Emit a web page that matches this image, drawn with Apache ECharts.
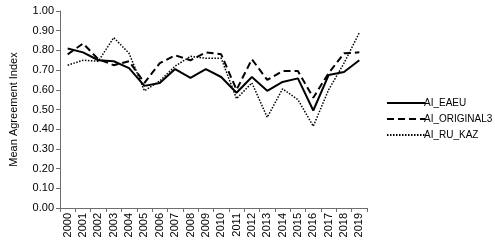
<!DOCTYPE html>
<html>
<head>
<meta charset="utf-8">
<script src="https://cdn.jsdelivr.net/npm/echarts@6/dist/echarts.min.js"></script>
<style>html,body{margin:0;padding:0;background:#fff}#c{width:495px;height:243px}</style>
</head>
<body>
<div id="c"></div>
<script>
var years = ['2000','2001','2002','2003','2004','2005','2006','2007','2008','2009','2010','2011','2012','2013','2014','2015','2016','2017','2018','2019'];
var aiEAEU = [0.81,0.79,0.75,0.745,0.71,0.62,0.635,0.705,0.66,0.705,0.665,0.585,0.665,0.595,0.64,0.658,0.495,0.675,0.69,0.75];
var aiOriginal3 = [0.78,0.835,0.755,0.725,0.745,0.635,0.735,0.775,0.75,0.79,0.78,0.60,0.755,0.65,0.695,0.695,0.56,0.685,0.785,0.79];
var aiRuKaz = [0.725,0.75,0.745,0.865,0.785,0.595,0.645,0.72,0.77,0.76,0.76,0.555,0.635,0.46,0.605,0.55,0.415,0.60,0.735,0.89];
var yTicks = ['0.00','0.10','0.20','0.30','0.40','0.50','0.60','0.70','0.80','0.90','1.00'];
var seriesNames = ['AI_EAEU','AI_ORIGINAL3','AI_RU_KAZ'];

var font = 'Liberation Sans';
var chart = echarts.init(document.getElementById('c'));
chart.setOption({
  animation: false,
  grid: {left: 54, top: 11, right: 128, bottom: 35},
  legend: {
    orient: 'vertical', left: 381, top: 93, itemGap: 6,
    itemWidth: 38, itemHeight: 10,
    itemStyle: {opacity: 0},
    textStyle: {fontFamily: font, fontSize: 10, color: '#000', padding: [0,0,0,-6]},
    data: seriesNames
  },
  xAxis: {
    type: 'category', data: years, boundaryGap: true,
    axisLine: {lineStyle: {color: '#6e6e6e', width: 1}},
    axisTick: {show: true, length: 4, lineStyle: {color: '#6e6e6e'}},
    axisLabel: {rotate: 90, fontFamily: font, fontSize: 11, color: '#000', margin: 5, interval: 0}
  },
  yAxis: {
    type: 'value', min: 0, max: 1, interval: 0.1,
    name: 'Mean Agreement Index', nameLocation: 'middle', nameGap: 41,
    nameTextStyle: {fontFamily: font, fontSize: 11, color: '#000'},
    axisLine: {show: true, lineStyle: {color: '#6e6e6e', width: 1}},
    axisTick: {show: true, length: 4, lineStyle: {color: '#6e6e6e'}},
    splitLine: {show: false},
    axisLabel: {fontFamily: font, fontSize: 11, color: '#000', margin: 6,
      formatter: function(v){ return yTicks[Math.round(v*10)]; }}
  },
  series: [
    {name: seriesNames[0], type: 'line', data: aiEAEU, symbol: 'none',
     lineStyle: {color: '#000', width: 2, type: 'solid'}, itemStyle: {color: '#000'}},
    {name: seriesNames[1], type: 'line', data: aiOriginal3, symbol: 'none',
     lineStyle: {color: '#000', width: 2, type: [7,4]}, itemStyle: {color: '#000'}},
    {name: seriesNames[2], type: 'line', data: aiRuKaz, symbol: 'none',
     lineStyle: {color: '#000', width: 1.5, type: [1.5,1.5]}, itemStyle: {color: '#000'}}
  ]
});
</script>
</body>
</html>
